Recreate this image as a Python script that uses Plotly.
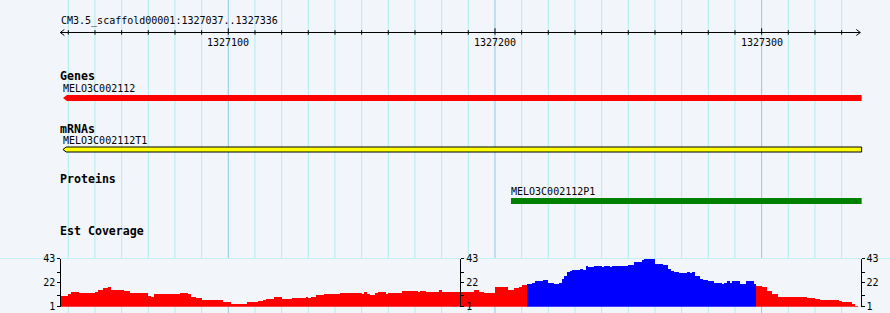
import plotly.graph_objects as go

# ---------------- data ----------------
view_name = "CM3.5_scaffold00001"
view_start = 1327037
view_end = 1327336

ruler_major = [1327100, 1327200, 1327300]
ruler_minor = list(range(1327040, 1327340, 10))

gene_name = "MELO3C002112"
gene_start, gene_end = 1327038, 1327337.5
mrna_name = "MELO3C002112T1"
mrna_start, mrna_end = 1327038, 1327337.5
protein_name = "MELO3C002112P1"
protein_start, protein_end = 1327206, 1327337.5

# EST coverage: run start offsets (bp from view_start) and depth values
cov_offsets = [0, 3, 4, 7, 13, 14, 16, 18, 19, 24, 26, 28, 33, 34, 35, 45, 48, 49, 51, 53,
               61, 64, 70, 74, 76, 77, 80, 83, 87, 92, 93, 94, 96, 99, 105, 113, 114, 115, 116, 118,
               119, 122, 123, 128, 134, 135, 137, 142, 143, 155, 157, 159, 163, 168, 170, 172, 173,
               175, 177, 178, 181, 183, 185, 187, 188, 189, 190, 191, 192, 195, 196, 197, 198, 200,
               203, 204, 206, 207, 213, 215, 218, 219, 223, 226, 228, 229, 230, 232, 235, 236, 237,
               238, 240, 241, 243, 245, 248, 249, 250, 251, 252, 255, 257, 260,
               261, 263, 265, 267, 269, 280, 283, 285, 292, 293, 297, 298]
cov_values = [11, 12, 14, 13, 14, 16, 17.5, 18.5, 15.5, 14.7, 13.5, 13, 11, 10, 12, 13, 12, 10, 9, 7,
              5, 3.4, 5, 6, 7, 7.7, 9.5, 7.7, 8.6, 9.5, 8.6, 9.5, 11.2, 12, 13, 12, 14, 12.5, 11.5, 13,
              14, 12, 13, 14.7, 14, 14.7, 14, 15.6, 14, 15.5, 14.5, 13, 18.5, 15.6, 17.4, 18.5, 20,
              21, 22, 23.5, 24.4, 21.7, 20.9, 21.7, 25.2, 27.9, 31.4, 32.2, 33.1, 34, 33.1, 36.6, 35.7, 36.6,
              35.7, 36.6, 35.7, 36.6, 37.5, 40.1, 41.9, 43, 38.4, 37.5, 34, 32.2, 31.4, 30.5, 31.4, 30.5, 31.4,
              27.9, 25.2, 24.4, 23.5, 21.7, 20.9, 21.7, 23.5, 21.7, 23.5, 20.9, 23.5, 20.9,
              19.1, 18.2, 14.7, 12.1, 9.5, 8.6, 7.7, 6.9, 6, 5.1, 3.4, 1.9]
cov_last_end = 299
cov_hi_start, cov_hi_end = 175, 261   # highlighted (blue) part
cov_min, cov_max = 1, 43
cov_ticks = [1, 11, 22, 31, 43]
cov_ticktext = ["1", "", "22", "", "43"]

# ---------------- layout constants ----------------
W, H = 890, 313
PX_PER_BP = 8 / 3
ORIGIN_PX = 228.3          # pixel of 1327100
X0 = 1327100 - ORIGIN_PX / PX_PER_BP
X1 = X0 + W / PX_PER_BP
HGRID_PX = [258.5, 260.5, 272.5, 283.5, 295.5]   # horizontal guide lines in coverage panel

BG = "#F2F5FA"
GRID_MINOR = "#AFEEEE"
GRID_MAJOR = "#8FC8E2"
MONO = "DejaVu Sans Mono"

def px(xp):
    return X0 + xp / PX_PER_BP

fig = go.Figure()

# ----- grid lines -----
shapes = []
for t in ruler_minor:
    shapes.append(dict(type="line", xref="x", yref="paper", x0=t, x1=t, y0=0, y1=1,
                       line=dict(color=GRID_MAJOR if t in ruler_major else GRID_MINOR, width=1),
                       layer="below"))
for g in HGRID_PX:
    shapes.append(dict(type="line", xref="paper", yref="y", x0=0, x1=1, y0=g, y1=g,
                       line=dict(color=GRID_MINOR, width=1), layer="below"))

# ----- ruler -----
rx, ry = [], []
rx += [view_start, view_end + 1, None]
ry += [32.5, 32.5, None]
for t in ruler_minor:
    rx += [t, t, None]
    ry += [(28.3 if t in ruler_major else 30.2), 34.6, None]
a = 1.5
rx += [view_start + a, view_start, view_start + a, None, view_end + 1 - a, view_end + 1, view_end + 1 - a]
ry += [29.5, 32.5, 35.5, None, 29.5, 32.5, 35.5]
fig.add_trace(go.Scatter(x=rx, y=ry, mode="lines", line=dict(color="black", width=1),
                         hoverinfo="skip", xaxis="x", yaxis="y"))

annotations = []
def label(text, x, y, size=10, bold=False, xref="x"):
    annotations.append(dict(text=("<b>%s</b>" % text) if bold else text, x=x, y=y,
                            xref=xref, yref="y", xanchor="left", yanchor="middle",
                            showarrow=False, xshift=-2,
                            font=dict(family=MONO, size=size, color="black")))

label("%s:%d..%d" % (view_name, view_start, view_end), px(60.7), 21)
for t in ruler_major:
    annotations.append(dict(text=str(t), x=t, y=42.2, xref="x", yref="y", xanchor="center",
                            yanchor="middle", showarrow=False,
                            font=dict(family=MONO, size=10, color="black")))

# ----- tracks -----
label("Genes", px(60), 76, size=11.6, bold=True)
label(gene_name, gene_start, 88.2)
tip = 1.5
fig.add_trace(go.Scatter(
    x=[gene_start, gene_start + tip, gene_end, gene_end, gene_start + tip, gene_start],
    y=[98, 95, 95, 101, 101, 98], fill="toself", fillcolor="#FF0000", mode="lines",
    line=dict(color="#FF0000", width=0), hoverinfo="skip", xaxis="x", yaxis="y"))

label("mRNAs", px(60), 128.7, size=11.6, bold=True)
label(mrna_name, mrna_start, 140.4)
fig.add_trace(go.Scatter(
    x=[mrna_start, mrna_start + 1.2, mrna_end, mrna_end, mrna_start + 1.2, mrna_start],
    y=[149.5, 147, 147, 152, 152, 149.5], fill="toself", fillcolor="#FFFF00", mode="lines",
    line=dict(color="black", width=1), hoverinfo="skip", xaxis="x", yaxis="y"))

label("Proteins", px(60), 179.2, size=11.6, bold=True)
label(protein_name, protein_start, 191.4)
fig.add_trace(go.Scatter(
    x=[protein_start, protein_end, protein_end, protein_start, protein_start],
    y=[198, 198, 204, 204, 198], fill="toself", fillcolor="#008000", mode="lines",
    line=dict(color="#008000", width=0), hoverinfo="skip", xaxis="x", yaxis="y"))

label("Est Coverage", px(60), 231, size=11.6, bold=True)

# ----- coverage bars -----
ends = cov_offsets[1:] + [cov_last_end]
centers, widths, colors = [], [], []
for s, e in zip(cov_offsets, ends):
    centers.append(view_start + (s + e) / 2)
    widths.append(e - s)
    colors.append("#0000FF" if cov_hi_start <= s < cov_hi_end else "#FF0000")
fig.add_trace(go.Bar(x=centers, y=cov_values, width=widths, marker=dict(color=colors, line=dict(width=0)),
                     hoverinfo="skip", xaxis="x", yaxis="y2"))
fig.add_trace(go.Scatter(x=[view_start], y=[cov_min], mode="markers", marker=dict(opacity=0),
                         hoverinfo="skip", xaxis="x", yaxis="y3"))
fig.add_trace(go.Scatter(x=[view_start], y=[cov_min], mode="markers", marker=dict(opacity=0),
                         hoverinfo="skip", xaxis="x", yaxis="y4"))

dom = [(H - 306.7) / H, (H - 258.7) / H]
def cov_axis(pos, side, **kw):
    d = dict(domain=dom, range=[cov_min, cov_max], anchor="free", position=pos, side=side,
             tickvals=cov_ticks, ticktext=cov_ticktext, ticks="outside", ticklen=3, tickwidth=1,
             tickcolor="black", showline=True, linecolor="black", linewidth=1, showgrid=False,
             zeroline=False, tickfont=dict(family=MONO, size=10, color="black"), fixedrange=True,
             automargin=False)
    d.update(kw)
    return d

fig.update_layout(
    width=W, height=H, margin=dict(l=0, r=0, t=0, b=0, pad=0), autosize=False,
    paper_bgcolor=BG, plot_bgcolor=BG, showlegend=False, barmode="overlay", bargap=0,
    xaxis=dict(range=[X0, X1], domain=[0, 1], visible=False, fixedrange=True, automargin=False),
    yaxis=dict(range=[H, 0], domain=[0, 1], visible=False, fixedrange=True, automargin=False),
    yaxis2=cov_axis(60.3 / W, "left"),
    yaxis3=cov_axis(460.3 / W, "right", overlaying="y2"),
    yaxis4=cov_axis(860.5 / W, "right", overlaying="y2"),
    shapes=shapes, annotations=annotations,
)

fig.write_html("out.html", config={"displayModeBar": False})
